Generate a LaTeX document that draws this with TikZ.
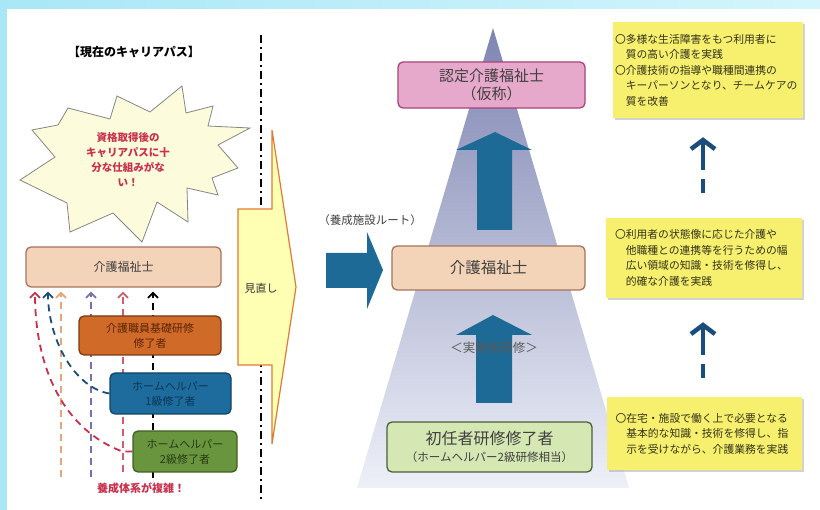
\documentclass[tikz,border=0pt]{standalone}
\usepackage{fontspec}
\setmainfont{Noto Sans CJK JP}
\usetikzlibrary{arrows.meta, shadows, backgrounds}

\definecolor{bgcyan}{HTML}{A9E7F7}
\definecolor{bgcyanlight}{HTML}{D4F5FC}
\definecolor{starfill}{HTML}{FCFCDC}
\definecolor{starline}{HTML}{858585}
\definecolor{revfill}{HTML}{FFFFB4}
\definecolor{revline}{HTML}{E27A35}
\definecolor{peach}{HTML}{F4D4B8}
\definecolor{peachline}{HTML}{A6745A}
\definecolor{basicfill}{HTML}{D06A28}
\definecolor{basicline}{HTML}{7A3B12}
\definecolor{basictext}{HTML}{5A2408}
\definecolor{hafill}{HTML}{1E6C9D}
\definecolor{haline}{HTML}{0F4566}
\definecolor{hatext}{HTML}{0B3552}
\definecolor{hbfill}{HTML}{6A953F}
\definecolor{hbline}{HTML}{3F5E22}
\definecolor{hbtext}{HTML}{263A12}
\definecolor{arrblue}{HTML}{1C6A95}
\definecolor{pyrtop}{HTML}{7E85B2}
\definecolor{pyrbot}{HTML}{EEF0F8}
\definecolor{pinkfill}{HTML}{E7A9CB}
\definecolor{pinkline}{HTML}{A8437C}
\definecolor{greenfill}{HTML}{D5E7B3}
\definecolor{greenline}{HTML}{4D5E3D}
\definecolor{ylw}{HTML}{F6F06E}
\definecolor{ytext}{HTML}{33321A}
\definecolor{navy}{HTML}{1A4C7C}
\definecolor{redc}{HTML}{C9304C}
\definecolor{tanc}{HTML}{E7A57A}
\definecolor{purc}{HTML}{7272AE}
\definecolor{pinkc}{HTML}{D25C6C}

\begin{document}
\begin{tikzpicture}[x=1pt, y=-1pt,
    every node/.style={inner sep=0pt},
    roundbox/.style={draw, rounded corners=5pt, line width=1.3pt, align=center},
    leftcare/.style={roundbox, fill=peach, draw=peachline, minimum width=195pt,
        minimum height=40pt, font=\fontsize{12}{14}\selectfont, text=black!75},
    basicbox/.style={roundbox, fill=basicfill, draw=basicline, minimum width=142pt,
        minimum height=39pt, font=\fontsize{11}{15}\selectfont, text=basictext},
    habox/.style={roundbox, fill=hafill, draw=haline, minimum width=121pt,
        minimum height=41pt, font=\fontsize{11}{15}\selectfont, text=hatext},
    hbbox/.style={roundbox, fill=hbfill, draw=hbline, minimum width=104pt,
        minimum height=41pt, font=\fontsize{11}{15}\selectfont, text=hbtext},
    certbox/.style={roundbox, fill=pinkfill, draw=pinkline, minimum width=187pt,
        minimum height=46pt, font=\fontsize{15}{18}\selectfont, text=black!75},
    carebox/.style={roundbox, fill=peach, draw=peachline, minimum width=193pt,
        minimum height=44pt, font=\fontsize{15.5}{18}\selectfont, text=black!75},
    initbox/.style={roundbox, fill=greenfill, draw=greenline, minimum width=205pt,
        minimum height=50pt, text=black!75, font=\fontsize{16}{17}\selectfont},
    ybox/.style={fill=ylw, align=left, text=ytext,
        drop shadow={shadow xshift=2pt, shadow yshift=-2.5pt, fill=black!35},
        font=\fontsize{10.8}{15.5}\selectfont},
    thinpath/.style={line width=1.8pt, dash pattern=on 7pt off 5pt,
        -{Straight Barb[length=5pt, width=10pt]}, shorten >=4pt},
    navyup/.style={draw=navy, line width=4.5pt, dash pattern=on 28pt off 9pt,
        {Straight Barb[length=9pt, width=24pt]}-},
    bluearr/.style={fill=arrblue},
    ]
\useasboundingbox (0,0) rectangle (820,510);

\begin{scope}[on background layer]
\shade[left color=bgcyan, right color=bgcyanlight] (0,0) rectangle (820,510);
\fill[white] (7,9) rectangle (820,510);
\end{scope}

\node[font=\fontsize{12}{14}\selectfont\bfseries] (title) at (134,52) {【現在のキャリアパス】};

\draw[starline, fill=starfill, line width=0.8pt]
    (32,130) -- (58,125) -- (68,108) -- (110,119) -- (117,96) -- (150,112)
    -- (182,86) -- (186,113) -- (213,106) -- (208,126) -- (250,128) -- (218,145)
    -- (238,168) -- (212,178) -- (218,195) -- (187,188) -- (188,222) -- (157,202)
    -- (142,242) -- (113,213) -- (70,232) -- (67,203) -- (20,180) -- (55,157) -- cycle;
\node[align=center, text=redc, font=\fontsize{10.5}{15}\selectfont\bfseries]
    (burst) at (128,160) {資格取得後の\\キャリアパスに十\\分な仕組みがな\\い！};

\draw[line width=2.4pt, dash pattern=on 8pt off 4pt on 2pt off 4pt] (261,35) -- (261,500);
\draw[revline, fill=revfill, line width=1.2pt]
    (238,209) -- (272,209) -- (272,130) -- (296,287) -- (272,444) -- (272,365)
    -- (238,365) -- cycle;
\node[font=\fontsize{11}{13}\selectfont, text=black!80] (review) at (261,288) {見直し};

\node[leftcare] (lcare) at (123.5,267) {介護福祉士};
\node[basicbox] (lbasic) at (150,335.5) {介護職員基礎研修\\修了者};
\node[habox] (lhelpa) at (170.5,393.5) {ホームヘルパー\\1級修了者};
\node[hbbox] (lhelpb) at (185,451.5) {ホームヘルパー\\2級修了者};
\node[text=redc, font=\fontsize{11}{13}\selectfont\bfseries] (complex) at (141,488) {養成体系が複雑！};

\coordinate (tanbot) at (61,477);
\coordinate (purbot) at (91,477);
\coordinate (pinkbot) at (123,472);
\coordinate (blkbot) at (153,478);
\coordinate (navytop) at (48,0);
\coordinate (redtop) at (35,0);

\begin{scope}[on background layer]
\draw[thinpath, draw=tanc] (tanbot) -- (tanbot |- lcare.south);
\draw[thinpath, draw=purc] (purbot) -- (purbot |- lcare.south);
\draw[thinpath, draw=pinkc] (pinkbot) -- (pinkbot |- lcare.south);
\draw[thinpath, draw=black] (blkbot) -- (blkbot |- lcare.south);
\draw[thinpath, draw=navy] (lhelpa.west) .. controls (75,388) and (48,340) .. (navytop |- lcare.south);
\draw[thinpath, draw=redc] (lhelpb.west) -- ++(-10,0) .. controls (65,430) and (35,370) .. (redtop |- lcare.south);
\end{scope}

\shade[top color=pyrtop, bottom color=pyrbot] (493,28) -- (629,488) -- (357,488) -- cycle;

\fill[bluearr] (326,253) -- (367,253) -- (367,232) -- (383,270) -- (367,309) -- (367,288) -- (326,288) -- cycle;
\node[font=\fontsize{11.5}{13}\selectfont, text=black!75] (route) at (370,220) {（養成施設ルート）};

\fill[bluearr] (477,230) -- (477,150) -- (456,150) -- (495,132) -- (532,150) -- (512,150) -- (512,230) -- cycle;
\fill[bluearr] (476,403) -- (476,335) -- (456,335) -- (493,315) -- (532,335) -- (512,335) -- (512,403) -- cycle;
\node[font=\fontsize{12.5}{14}\selectfont, text=black!65] (practice) at (494,348) {＜実務者研修＞};

\node[certbox] (rcert) at (491.5,85) {認定介護福祉士\\（仮称）};
\node[carebox] (rcare) at (488.5,268) {介護福祉士};
\node[initbox] (rinit) at (489.5,447) {初任者研修修了者\\
    {\fontsize{11.5}{13}\selectfont （ホームヘルパー2級研修相当）}};

\node[ybox, text width=186pt, minimum height=96pt, inner xsep=2pt] (yboxa) at (708,70)
    {〇多様な生活障害をもつ利用者に\\\hspace*{1em}質の高い介護を実践\\〇介護技術の指導や職種間連携の\\\hspace*{1em}キーパーソンとなり、チームケアの\\\hspace*{1em}質を改善};
\node[ybox, text width=178pt, minimum height=80pt, inner xsep=9pt] (yboxb) at (704,258)
    {〇利用者の状態像に応じた介護や\\\hspace*{1em}他職種との連携等を行うための幅\\\hspace*{1em}広い領域の知識・技術を修得し、\\\hspace*{1em}的確な介護を実践};
\node[ybox, text width=178pt, minimum height=73pt, inner xsep=8.5pt] (yboxc) at (704.5,433.5)
    {〇在宅・施設で働く上で必要となる\\\hspace*{1em}基本的な知識・技術を修得し、指\\\hspace*{1em}示を受けながら、介護業務を実践};

\coordinate (navyx) at (703,0);
\draw[navyup, shorten <=19pt, shorten >=25pt] (navyx |- yboxa.south) -- (navyx |- yboxb.north);
\draw[navyup, shorten <=24pt, shorten >=19pt] (navyx |- yboxb.south) -- (navyx |- yboxc.north);
\end{tikzpicture}
\end{document}
